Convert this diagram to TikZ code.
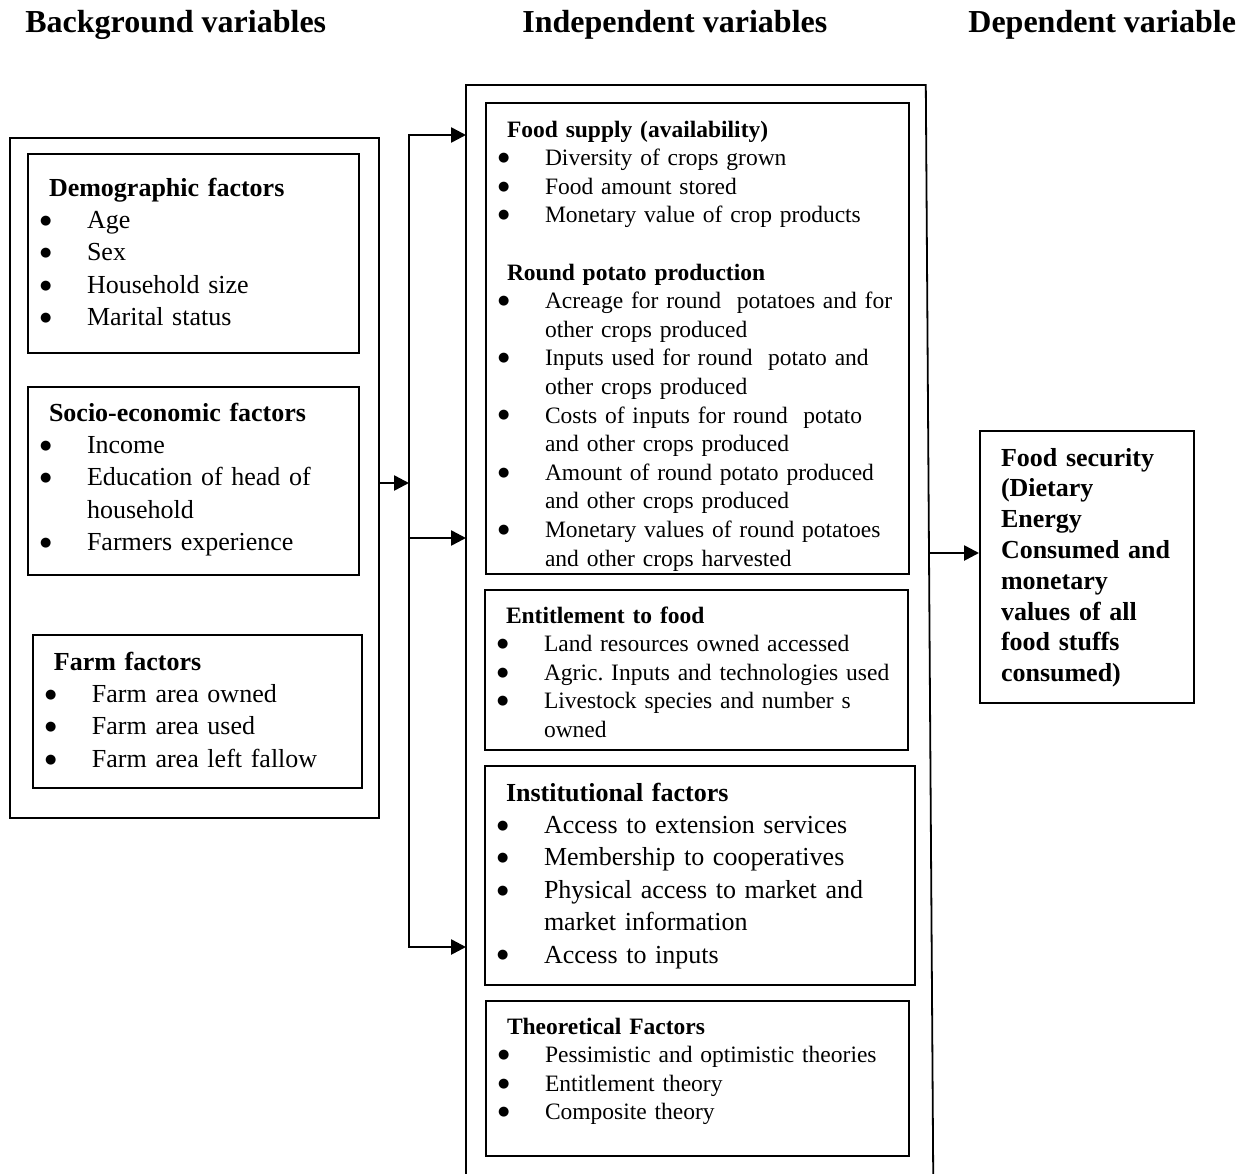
\documentclass[tikz,border=0pt]{standalone}
\usepackage{fontspec}
\setmainfont{Liberation Serif}
\newfontfamily\dotfont{DejaVu Sans}
\usepackage{tikz}
\usetikzlibrary{positioning, arrows.meta, calc}

\newcommand{\bigtxt}{\fontsize{13pt}{16.2pt}\selectfont}
\newcommand{\smalltxt}{\fontsize{11.75pt}{14.3pt}\selectfont}
\newcommand{\headtxt}{\fontsize{16pt}{19pt}\selectfont\bfseries}
\newcommand{\sectxt}{\fontsize{13pt}{15.4pt}\selectfont\bfseries}
\newcommand{\bdot}{\raisebox{2.1pt}{\dotfont\fontsize{6.5pt}{6.5pt}\selectfont ●}}
\newcommand{\itm}[1]{\par\noindent\hangindent=23.5pt\hangafter=1\makebox[23.5pt][l]{\bdot}#1}
\newcommand{\hd}[1]{\noindent\hspace*{4.5pt}\textbf{#1}}

\begin{document}
\begin{tikzpicture}[x=0.5pt, y=-0.5pt,
  varbox/.style={draw, line width=1pt, anchor=north west, inner xsep=6pt, inner ysep=0pt, align=left},
  headlbl/.style={anchor=base west, inner sep=0pt, font=\headtxt},
  arr/.style={-{Triangle[length=7.5pt,width=7.5pt]}, line width=1.3pt}]
\useasboundingbox (0,0) rectangle (1253,1173);

\node[headlbl] (bghead) at (25,32) {Background variables};
\node[headlbl] (ivhead) at (522,32) {Independent variables};
\node[headlbl] (dvhead) at (968,32) {Dependent variable};

\node[draw, line width=0.9pt, anchor=north west, minimum width=184.5pt, minimum height=340pt, inner sep=0pt] (bg) at (9,137) {};

\node[varbox, font=\bigtxt, text width=153.5pt, text height=21pt, text depth=78.5pt] (demo) at (27,153) {\hd{Demographic factors}\itm{Age}\itm{Sex}\itm{Household size}\itm{Marital status}\par};

\node[varbox, font=\bigtxt, text width=153.5pt, text height=17pt, text depth=77pt] (socio) at (27,386) {\hd{Socio-economic factors}\itm{Income}\itm{\mbox{Education of head of}\newline household}\itm{Farmers experience}\par};

\node[varbox, font=\bigtxt, text width=152.5pt, text height=17.5pt, text depth=59pt] (farm) at (32,634) {\hd{Farm factors}\itm{Farm area owned}\itm{Farm area used}\itm{Farm area left fallow}\par};

\node[anchor=north west, minimum width=229.5pt, minimum height=550pt, inner sep=0pt] (indep) at (466,85) {};
\draw[line width=0.9pt] (indep.south west) -- (indep.north west) -- (indep.north east) -- ([xshift=3.75pt]indep.south east);

\node[varbox, font=\smalltxt, text width=199.5pt, text height=17pt, text depth=218.5pt] (food) at (485,102) {\hd{Food supply (availability)}\itm{Diversity of crops grown}\itm{Food amount stored}\itm{\mbox{Monetary value of crop products}}\par\vspace{14.3pt}\hd{Round potato production}\itm{\mbox{Acreage for round~ potatoes and for}\newline other crops produced}\itm{\mbox{Inputs used for round~ potato and}\newline other crops produced}\itm{\mbox{Costs of inputs for round~ potato}\newline and other crops produced}\itm{\mbox{Amount of round potato produced}\newline and other crops produced}\itm{\mbox{Monetary values of round potatoes}\newline and other crops harvested}\par};

\node[varbox, font=\smalltxt, text width=199.5pt, text height=16.5pt, text depth=63.5pt] (entitle) at (484,589) {\hd{Entitlement to food}\itm{\mbox{Land resources owned accessed}}\itm{\mbox{Agric.\ Inputs and technologies used}}\itm{\mbox{Livestock species and number s}\newline owned}\par};

\node[varbox, font=\bigtxt, text width=203pt, text height=17.5pt, text depth=92pt] (instit) at (484,765) {\hd{Institutional factors}\itm{\mbox{Access to extension services}}\itm{\mbox{Membership to cooperatives}}\itm{\mbox{Physical access to market and}\newline market information}\itm{Access to inputs}\par};

\node[varbox, font=\smalltxt, text width=199.5pt, text height=16.5pt, text depth=61pt] (theory) at (485,1000) {\hd{Theoretical Factors}\itm{\mbox{Pessimistic and optimistic theories}}\itm{Entitlement theory}\itm{Composite theory}\par};

\node[varbox, font=\sectxt, inner xsep=10.5pt, text width=86pt, text height=17.5pt, text depth=118.5pt] (secur) at (979,430) {Food security\\(Dietary\\Energy\\Consumed and\\monetary\\values of all\\food stuffs\\consumed)};

\coordinate (busmid) at (409,483);
\coordinate (bustop) at (409,135);
\coordinate (buscen) at (409,538);
\coordinate (busbot) at (409,947);
\coordinate (outmid) at (929,553);

\draw[arr] (bg.east |- busmid) -- (busmid);
\draw[arr] (buscen) -- (bustop) -- (bustop -| indep.west);
\draw[arr] (buscen) -- (busbot) -- (busbot -| indep.west);
\draw[arr] (buscen) -- (buscen -| indep.west);
\draw[arr] (outmid) -- (secur.west |- outmid);
\end{tikzpicture}
\end{document}
